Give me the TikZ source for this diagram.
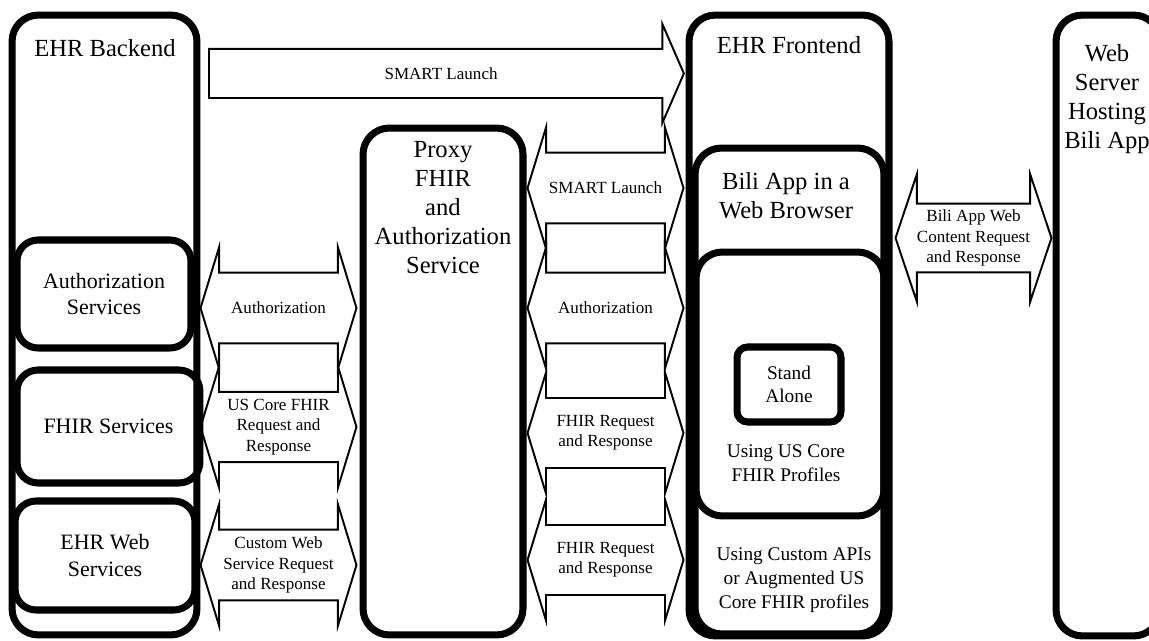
\documentclass[tikz,border=0pt]{standalone}
\usepackage{fontspec}
\setmainfont{Liberation Serif}
\usetikzlibrary{shapes.arrows,positioning}
\tikzset{
  tier/.style={draw, line width=4pt, rounded corners=15pt, inner sep=0pt},
  service/.style={draw, line width=4pt, rounded corners=12pt, inner sep=0pt, align=center, font=\fontsize{12.5}{15}\selectfont},
  tiername/.style={align=center, inner sep=0pt, font=\fontsize{14}{16.5}\selectfont},
  note/.style={align=center, inner sep=0pt, font=\fontsize{11}{13.5}\selectfont},
  % arrow shapes: height runs along the arrow, head size set by the extend
  exchange/.style={double arrow, draw, line width=1.1pt, inner sep=0pt, align=center,
    minimum height=3.12cm, double arrow head extend=14.5pt,
    double arrow tip angle=146, font=\fontsize{9.7}{11.5}\selectfont},
  launch/.style={single arrow, draw, line width=1.1pt, inner sep=0pt, inner ysep=10pt, anchor=tail,
    minimum height=9.5cm, single arrow head extend=14.2pt,
    single arrow tip angle=133, font=\fontsize{9.7}{11.5}\selectfont},
  % shaft thickness from the number of label lines
  oneline/.style={inner ysep=16.2pt},
  twolines/.style={inner ysep=9.4pt},
  threelines/.style={inner ysep=3.65pt}
}

\begin{document}
\begin{tikzpicture}[x=0.02cm, y=-0.02cm]
  \useasboundingbox (0,0) rectangle (1149,641);
  \clip (0,0) rectangle (1149,641);

  % backend
  \node[tier, minimum width=3.7cm, minimum height=12.4cm] (backend) at (104.5,325) {};
  \node[tiername] (backendname) at (105,48) {EHR Backend};
  \node[service, minimum width=3.48cm, minimum height=2.16cm] (authsvc) at (104,294) {Authorization\\Services};
  \node[service, minimum width=3.66cm, minimum height=2.26cm] (fhirsvc) at (108.5,426.5) {FHIR Services};
  \node[service, minimum width=3.6cm, minimum height=2.18cm] (websvc) at (105,555.5) {EHR Web\\Services};

  % proxy
  \node[tier, minimum width=3.2cm, minimum height=10.14cm] (proxy) at (443,381.5) {};
  \node[tiername] (proxyname) at (443,208) {Proxy\\FHIR\\and\\Authorization\\Service};

  % frontend, app nested inside
  \node[tier, minimum width=4cm, minimum height=12.42cm] (frontend) at (789,325.5) {};
  \node[tiername] (frontendname) at (789,45) {EHR Frontend};
  \node[tier, minimum width=3.78cm, minimum height=9.72cm] (browser) at (789.5,391) {};
  \node[tiername] (browsername) at (786,196) {Bili App in a\\Web Browser};
  \node[tier, minimum width=3.76cm, minimum height=5.28cm] (uscore) at (790,384) {};
  \node[service, rounded corners=6pt, minimum width=2.08cm, minimum height=1.5cm,
        font=\fontsize{11}{13}\selectfont] (standalone) at (789,384.5) {Stand\\Alone};
  \node[note] (uscorename) at (786,463) {Using US Core\\FHIR Profiles};
  \node[note] (customname) at (794,580) {Using Custom APIs\\or Augmented US\\Core FHIR profiles};

  % web server
  \node[tier, minimum width=2.08cm, minimum height=12.42cm] (webserver) at (1108,325.5) {};
  \node[tiername] (webservername) at (1107,99) {Web\\Server\\Hosting\\Bili App};

  % exchanges
  \node[launch] (launchtop) at (208,73.5) {SMART Launch};
  \node[exchange, oneline] (authL) at (278.5,308) {Authorization};
  \node[exchange, threelines] (fhirL) at (278.5,427) {US Core FHIR\\Request and\\Response};
  \node[exchange, threelines] (webL) at (278.5,565) {Custom Web\\Service Request\\and Response};
  \node[exchange, oneline] (launchR) at (605.5,188) {SMART Launch};
  \node[exchange, oneline] (authR) at (605.5,308) {Authorization};
  \node[exchange, twolines] (fhirR) at (605.5,433) {FHIR Request\\and Response};
  \node[exchange, twolines] (customR) at (605.5,560) {FHIR Request\\and Response};
  \node[exchange, inner ysep=3.15pt, double arrow head extend=16.7pt,
        double arrow tip angle=143] (content) at (973.5,238) {Bili App Web\\Content Request\\and Response};
\end{tikzpicture}
\end{document}
